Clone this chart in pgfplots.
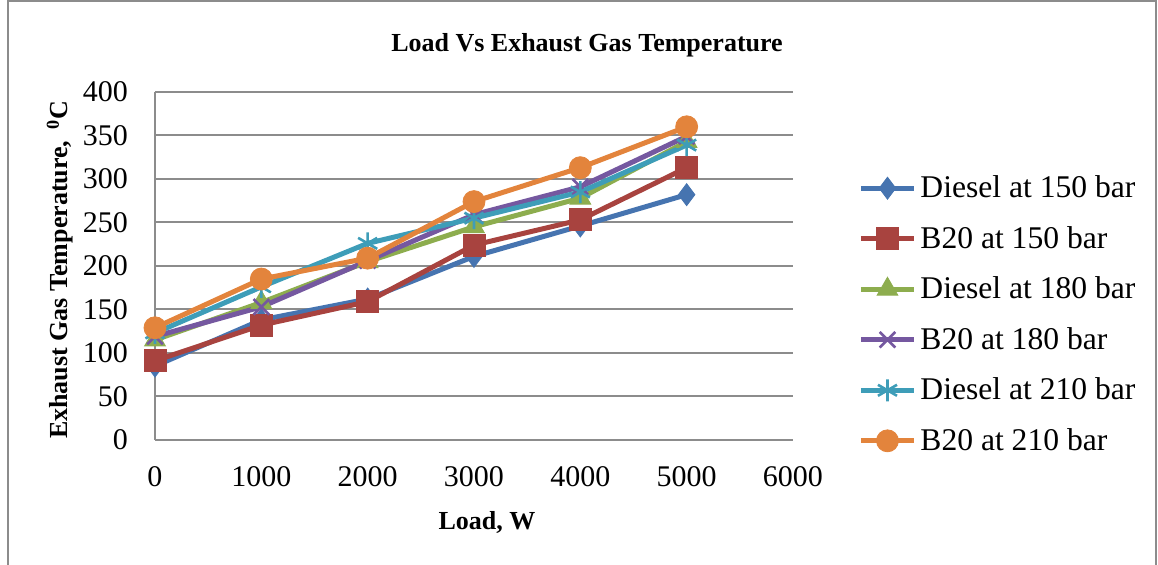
\documentclass[border=0pt]{standalone}
\usepackage{pgfplots}
\pgfplotsset{compat=1.18}
\usepackage{fontspec}
\setmainfont{Liberation Serif}

\definecolor{cBlue}{HTML}{4674B0}
\definecolor{cRed}{HTML}{A8433F}
\definecolor{cGreen}{HTML}{8DAD4E}
\definecolor{cPurple}{HTML}{7558A0}
\definecolor{cCyan}{HTML}{3E9DB8}
\definecolor{cOrange}{HTML}{E3843C}
\definecolor{cGrid}{HTML}{8C8C8C}

\begin{document}
\begin{tikzpicture}
\useasboundingbox (-77.5pt,-62.5pt) rectangle (501.5pt,220pt);
% outer chart frame
\draw[cGrid, line width=0.9pt] (-73.5pt,-63pt) -- (-73.5pt,219.3pt) -- (500.5pt,219.3pt) -- (500.5pt,-63pt);
\begin{axis}[
  scale only axis,
  width=319pt, height=174pt,
  xmin=0, xmax=6000, ymin=0, ymax=400,
  xtick={0,1000,...,6000}, ytick={0,50,...,400},
  axis x line*=bottom, axis y line*=left,
  x axis line style={draw=none},
  y axis line style={cGrid, line width=1pt},
  major tick length=0pt,
  ymajorgrids, grid style={cGrid, line width=1pt},
  tick label style={font=\fontsize{15}{17}\selectfont},
  /pgf/number format/assume math mode=true,
  /pgf/number format/1000 sep={},
  xticklabel style={yshift=-9.5pt},
  yticklabel style={xshift=-10pt},
  clip=false,
  every axis plot/.append style={line width=2.5pt, mark options={solid}},
  legend style={draw=none, fill=none, at={(1.102,0.772)}, anchor=north west,
    font=\fontsize{15.8}{17.5}\selectfont, inner sep=0pt,
    row sep=8.8pt, cells={anchor=west}},
  legend image code/.code={
    \draw[mark repeat=2, mark phase=2] plot coordinates {(0pt,0pt) (13.25pt,0pt) (26.5pt,0pt)};},
]
\addplot[cBlue, mark=diamond*, mark size=5.5pt, mark options={fill=cBlue, line width=0.4pt}]
  coordinates {(0,85) (1000,138) (2000,162) (3000,211) (4000,246) (5000,282)};
\addlegendentry{Diesel at 150 bar}
\addplot[cRed, mark=square*, mark size=5.5pt, mark options={fill=cRed, line width=0.4pt}]
  coordinates {(0,91) (1000,132) (2000,159) (3000,224) (4000,253) (5000,313)};
\addlegendentry{B20 at 150 bar}
\addplot[cGreen, mark=triangle*, mark size=6pt, mark options={fill=cGreen, line width=0.4pt}]
  coordinates {(0,115) (1000,158) (2000,205) (3000,245) (4000,278) (5000,343)};
\addlegendentry{Diesel at 180 bar}
\addplot[cPurple, mark=x, mark size=5.5pt, mark options={line width=1.3pt}]
  coordinates {(0,119) (1000,153) (2000,206) (3000,259) (4000,291) (5000,349)};
\addlegendentry{B20 at 180 bar}
\addplot[cCyan, mark=asterisk, mark size=5.5pt, mark options={line width=1.3pt}]
  coordinates {(0,123) (1000,176) (2000,226) (3000,255) (4000,285) (5000,339)};
\addlegendentry{Diesel at 210 bar}
\addplot[cOrange, mark=*, mark size=5.5pt, mark options={fill=cOrange, line width=0.4pt}]
  coordinates {(0,129) (1000,185) (2000,209) (3000,274) (4000,313) (5000,360)};
\addlegendentry{B20 at 210 bar}
\end{axis}
% title and axis titles
\node[font=\fontsize{13}{15}\selectfont\bfseries] at (216pt,197.5pt) {Load Vs Exhaust Gas Temperature};
\node[font=\fontsize{13}{15}\selectfont\bfseries] at (166pt,-41.5pt) {Load, W};
\node[font=\fontsize{13}{15}\selectfont\bfseries, rotate=90] at (-47.5pt,85pt) {Exhaust Gas Temperature,\, $^{\mathbf{0}}$C};
\end{tikzpicture}
\end{document}
